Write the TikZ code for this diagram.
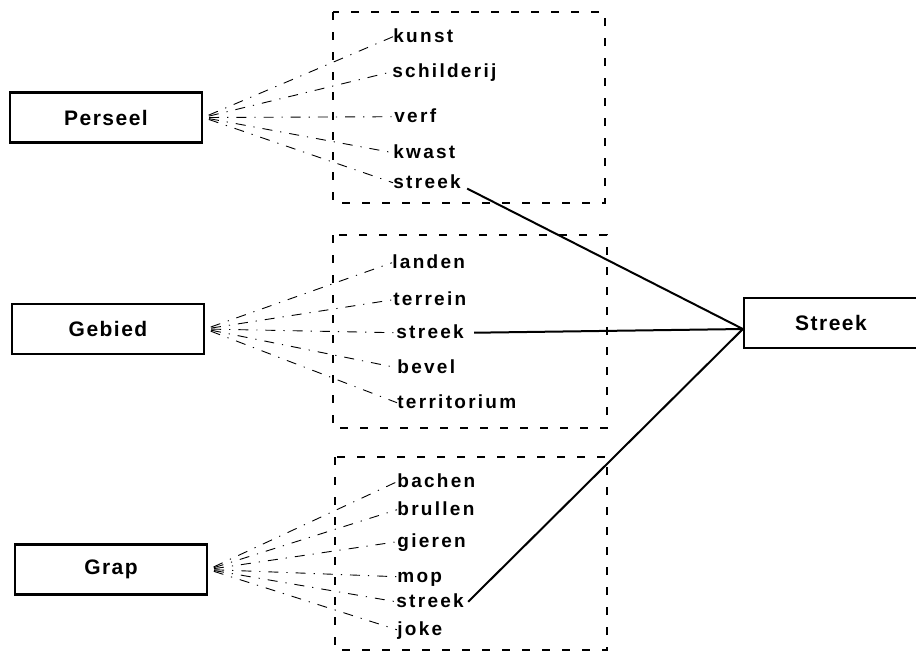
\documentclass[tikz,border=0pt]{standalone}
\usepackage{fontspec}
\setmainfont{Liberation Sans}
\newfontfamily\wordfont[LetterSpace=12]{Liberation Sans Bold}
\newfontfamily\termfont[LetterSpace=7]{Liberation Sans Bold}

\tikzset{
  term/.style={draw,line width=1.1pt,minimum width=96pt,minimum height=25pt,
    inner sep=0pt,font=\termfont\fontsize{10.5}{12}\selectfont},
  word/.style={inner sep=0pt,anchor=base west,
    font=\wordfont\fontsize{9.5}{11}\selectfont},
  group/.style={draw,line width=0.9pt,dash pattern=on 4pt off 6pt},
  fan/.style={line width=0.45pt,shorten <=3pt,
    dash pattern=on 5pt off 4pt on 0.6pt off 4pt},
  link/.style={line width=1pt}
}

\begin{document}
\begin{tikzpicture}[x=0.5pt,y=-0.5pt]
  \useasboundingbox (0,0) rectangle (916,655);

  % the three words and the target
  \node[term] (perseel) at (106,117.5) {Perseel};
  \node[term] (gebied) at (108,329) {Gebied};
  \node[term] (grap) at (111,569.5) {Grap};
  \node[term,minimum width=87pt] (streek) at (831,323) {Streek};

  % groups
  \draw[group] (333,12) rectangle (605,203);
  \draw[group] (333,235) rectangle (607,428);
  \draw[group] (335,457) rectangle (607,650);

  % senses of Perseel
  \node[word] (kunst) at (393,42) {kunst};
  \node[word] (schilderij) at (392,77) {schilderij};
  \node[word] (verf) at (394,122) {verf};
  \node[word] (kwast) at (393,158) {kwast};
  \node[word] (streekp) at (393,188) {streek};

  % senses of Gebied
  \node[word] (landen) at (392,268) {landen};
  \node[word] (terrein) at (393,305) {terrein};
  \node[word] (streekg) at (396,338) {streek};
  \node[word] (bevel) at (397,373) {bevel};
  \node[word] (territorium) at (397,408) {territorium};

  % senses of Grap
  \node[word] (bachen) at (397,487) {bachen};
  \node[word] (brullen) at (397,515) {brullen};
  \node[word] (gieren) at (397,547) {gieren};
  \node[word] (mop) at (397,582) {mop};
  \node[word] (streekr) at (396,607) {streek};
  \node[word] (joke) at (397,635) {joke};

  \foreach \w in {kunst,schilderij,verf,kwast,streekp}
    \draw[fan] (perseel.east) -- (\w.mid west);
  \foreach \w in {landen,terrein,streekg,bevel,territorium}
    \draw[fan] (gebied.east) -- (\w.mid west);
  \foreach \w in {bachen,brullen,gieren,mop,streekr,joke}
    \draw[fan] (grap.east) -- (\w.mid west);

  \coordinate (hub) at ([yshift=-3pt]streek.west);
  \draw[link] ([xshift=3pt]streekp.south east) -- (hub);
  \draw[link] ([xshift=5pt]streekg.mid east) -- (hub);
  \draw[link] ([xshift=2pt]streekr.mid east) -- (hub);
\end{tikzpicture}
\end{document}
